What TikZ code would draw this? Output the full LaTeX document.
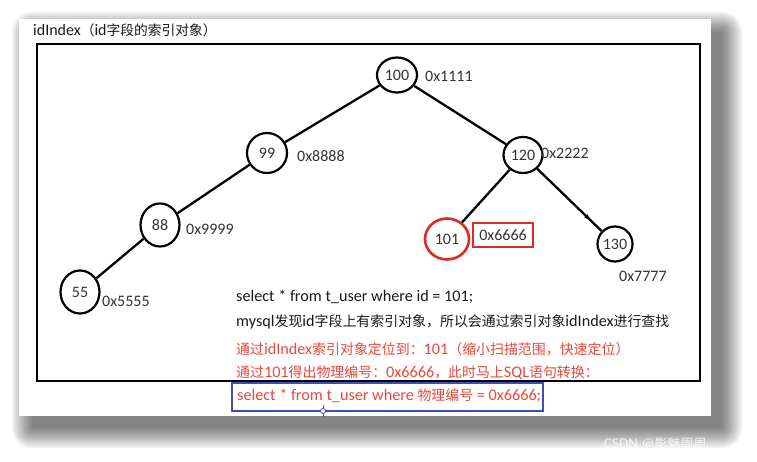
\documentclass[tikz,border=0pt]{standalone}
\usepackage{fontspec}
\setmainfont{Carlito}
\newfontfamily\cjk{Noto Sans CJK SC}[Scale=0.86]
\usetikzlibrary{shapes.geometric,decorations.markings,arrows.meta}
\definecolor{txtred}{RGB}{232,72,60}
\definecolor{boxred}{RGB}{226,40,40}
\definecolor{boxblue}{RGB}{60,78,190}
\begin{document}
\begin{tikzpicture}[x=1pt,y=-1pt,
  keynode/.style={draw=black,line width=2.2pt,ellipse,inner sep=0pt,font=\fontsize{16}{18}\selectfont,text=black!80},
  addr/.style={anchor=west,inner sep=0pt,font=\fontsize{16}{18}\selectfont,text=black!80},
  edge/.style={line width=2.3pt,black},
  line/.style={anchor=base west,inner sep=0pt,font=\fontsize{16.2}{18}\selectfont,text=black!90},
]
\useasboundingbox (0,0) rectangle (757,462);
\fill[white] (0,0) rectangle (757,462);
% shadow of the card
\foreach \r in {0,2,...,20}{
  \fill[black,opacity=0.055,rounded corners=\r pt] (32-\r,32-\r) rectangle (722+\r,428+\r);
}
\fill[white] (19,19) rectangle (711,416);
% title
\node[anchor=base west,inner sep=0pt,font=\fontsize{16}{18}\selectfont,text=black!90] (title) at (33,36) {idIndex{\cjk （}id{\cjk 字段的索引对象）}};
% frame
\draw[line width=2pt] (37,44) rectangle (700,381);
% tree nodes
\node[keynode,minimum width=40pt,minimum height=35pt] (n100) at (397,75) {100};
\node[keynode,minimum width=40pt,minimum height=40pt] (n99) at (267,153) {99};
\node[keynode,minimum width=39pt,minimum height=36pt] (n120) at (523,155) {120};
\node[keynode,minimum width=39pt,minimum height=43pt] (n88) at (160,225) {88};
\node[keynode,minimum width=39pt,minimum height=43pt] (n55) at (80,292) {55};
\node[keynode,draw=boxred,line width=2.6pt,minimum width=44pt,minimum height=41pt] (n101) at (447,239) {101};
\node[keynode,minimum width=35pt,minimum height=35pt] (n130) at (615,244) {130};
% edges
\draw[edge] (n100) -- (n99);
\draw[edge] (n100) -- (n120);
\draw[edge] (n99) -- (n88);
\draw[edge] (n88) -- (n55);
\draw[edge] (n120) -- (n101);
\draw[edge,postaction={decorate},decoration={markings,mark=at position 0.82 with {\arrow{Stealth[length=6pt,width=5pt]}}}] (n120) -- (n130);
% addresses
\node[addr] (a100) at (425,76) {0x1111};
\node[addr] (a99) at (297,156) {0x8888};
\node[addr] (a120) at (541,153) {0x2222};
\node[addr] (a88) at (186,229) {0x9999};
\node[addr] (a55) at (102,301) {0x5555};
\node[addr] (a130) at (619,276) {0x7777};
\node[draw=boxred,line width=2pt,minimum width=60pt,minimum height=24pt,inner sep=0pt,font=\fontsize{16}{18}\selectfont,text=black!80] (a101) at (503,235) {0x6666};
% text lines
\node[line] (l1) at (236,301) {select * from t\_user where id = 101;};
\node[line] (l2) at (236,326) {mysql{\cjk 发现}id{\cjk 字段上有索引对象，所以会通过索引对象}idIndex{\cjk 进行查找}};
\node[line,text=txtred] (l3) at (236,354) {{\cjk 通过}idIndex{\cjk 索引对象定位到：}101{\cjk （缩小扫描范围，快速定位）}};
\node[line,text=txtred] (l4) at (236,377) {{\cjk 通过}101{\cjk 得出物理编号：}0x6666{\cjk ，此时马上}SQL{\cjk 语句转换：}};
\draw[boxblue,line width=2pt] (232,383) rectangle (543,411);
\node[line,text=txtred] (l5) at (237,400) {select * from t\_user where {\cjk 物理编号} = 0x6666;};
% selection handle
\draw[gray!60!blue,line width=0.8pt] (323,405) -- (323,417);
\draw[gray!60!blue,line width=0.8pt,fill=white] (323,411) circle (2.5pt);
% watermark
\node[anchor=base west,inner sep=0pt,text=white,opacity=0.8,font=\fontsize{15}{16}\selectfont] (wm) at (604,448) {CSDN @{\cjk 影魅周周}};
\end{tikzpicture}
\end{document}
